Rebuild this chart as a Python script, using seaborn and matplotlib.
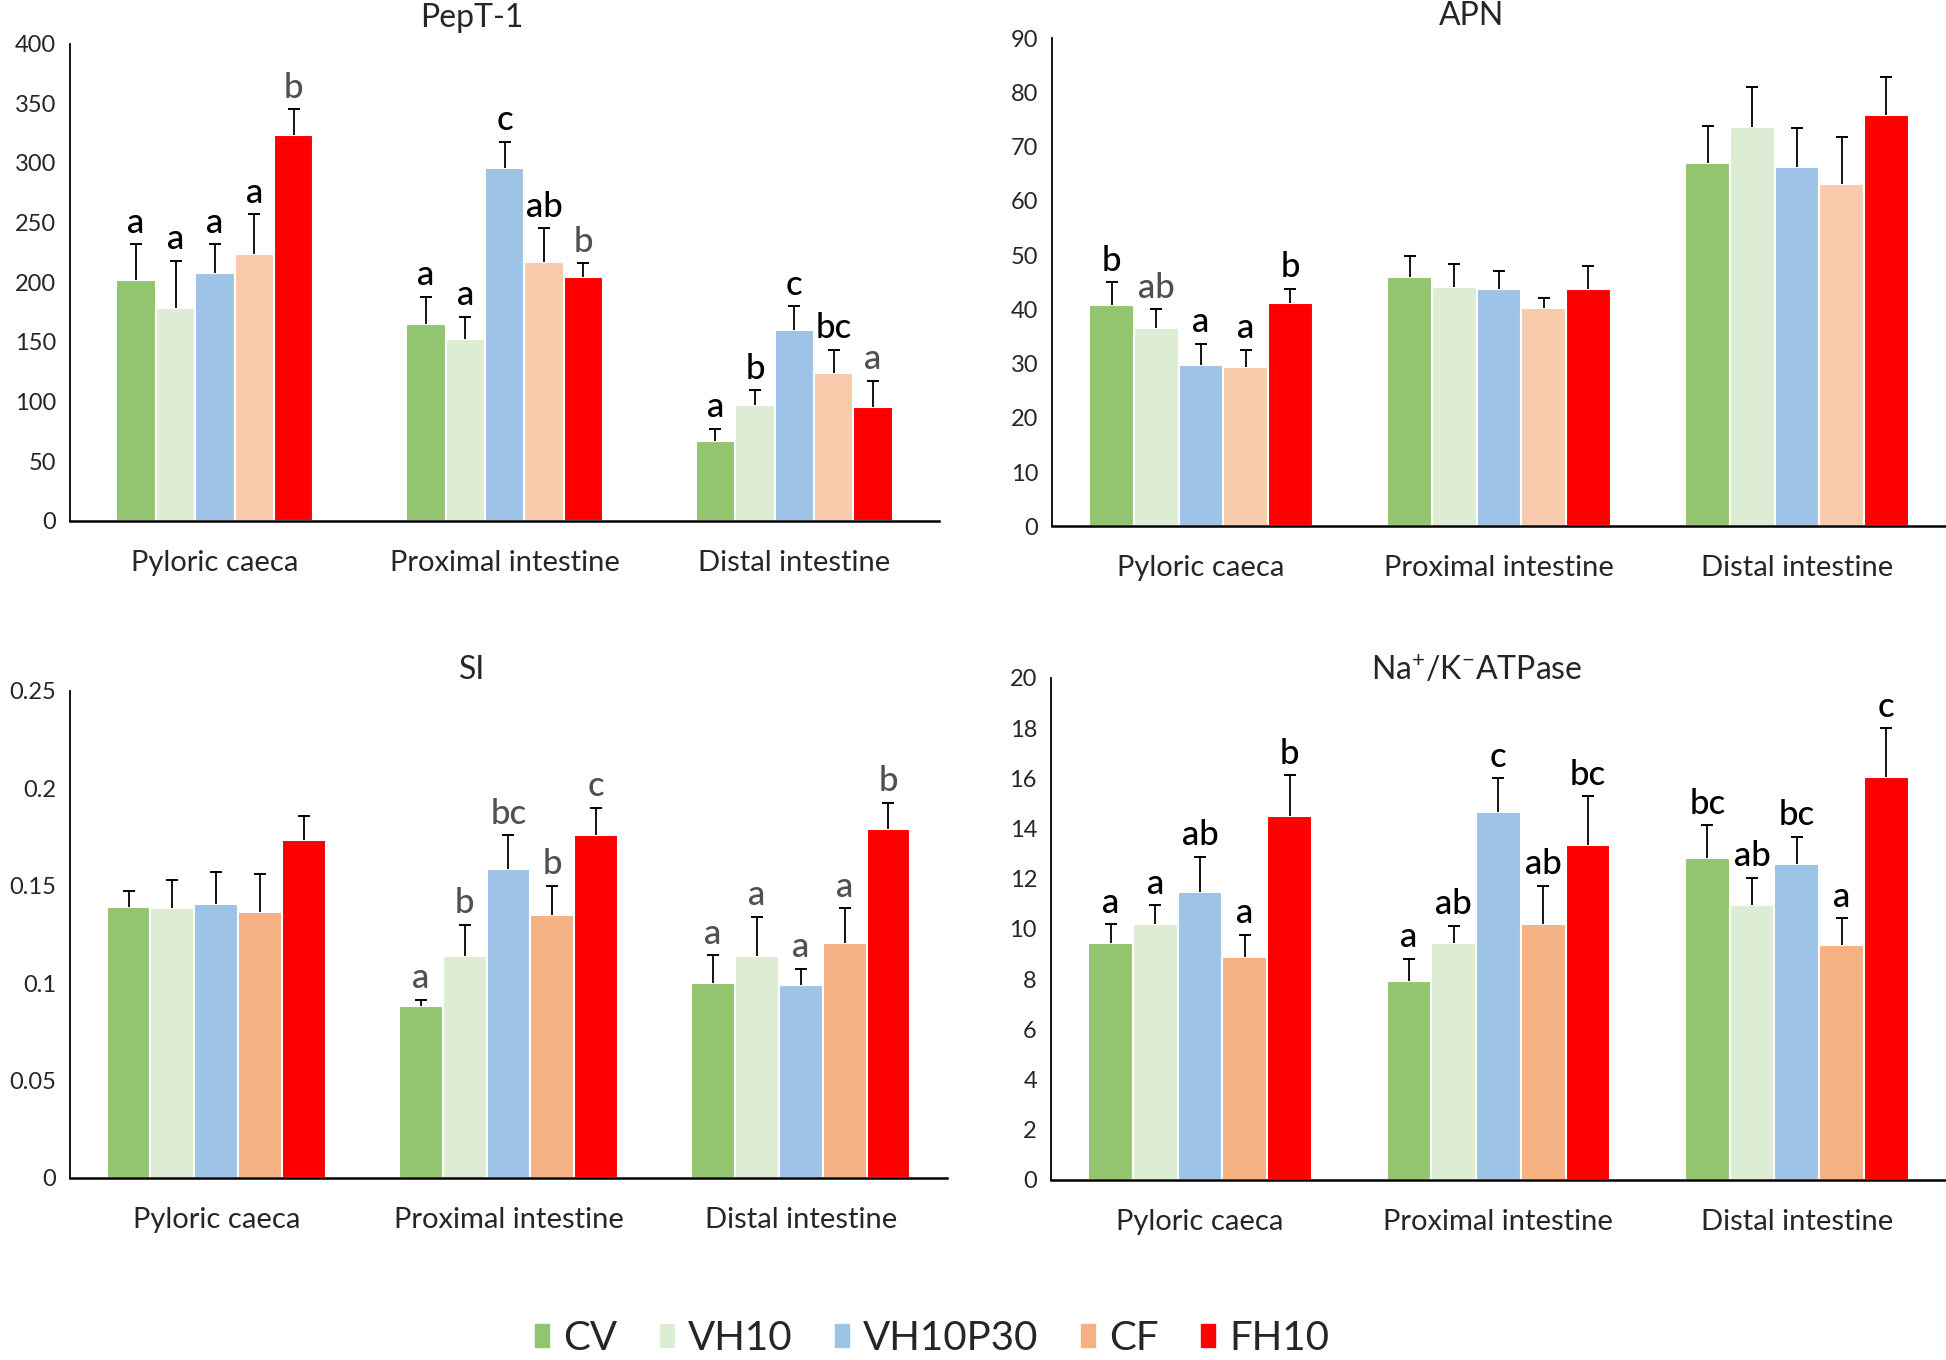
import matplotlib
matplotlib.use("Agg")
import matplotlib.pyplot as plt
import matplotlib.patches as mpatches
from matplotlib.ticker import FormatStrFormatter, FixedLocator
import numpy as np
import pandas as pd
import seaborn as sns

# categories
segments = ["Pyloric caeca", "Proximal intestine", "Distal intestine"]
diets = ["CV", "VH10", "VH10P30", "CF", "FH10"]

# values per segment: rows = segments, columns = diets
pept1_mean = [[201.6, 178.5, 207.4, 223.8, 323.3],
              [165.3, 152.5, 295.7, 216.7, 204.5],
              [67.1, 97.0, 159.6, 124.2, 95.3]]
pept1_top = [[231.8, 218.0, 231.8, 257.0, 344.8],
             [188.0, 170.8, 317.5, 245.3, 215.7],
             [77.4, 109.5, 180.0, 143.5, 117.2]]
pept1_letters = [["a", "a", "a", "a", "b"],
                 ["a", "a", "c", "ab", "b"],
                 ["a", "b", "c", "bc", "a"]]

apn_mean = [[40.8, 36.6, 29.7, 29.4, 41.2],
            [45.9, 44.1, 43.8, 40.3, 43.8],
            [66.9, 73.7, 66.3, 63.1, 75.9]]
apn_top = [[45.0, 40.0, 33.6, 32.5, 43.8],
           [49.8, 48.4, 47.1, 42.0, 48.0],
           [73.8, 80.9, 73.4, 71.7, 82.8]]
apn_letters = [["b", "ab", "a", "a", "b"],
               ["", "", "", "", ""],
               ["", "", "", "", ""]]

si_mean = [[0.1391, 0.1385, 0.1407, 0.1367, 0.1732],
           [0.0883, 0.1141, 0.1584, 0.1351, 0.1759],
           [0.0999, 0.1139, 0.0991, 0.1206, 0.1793]]
si_top = [[0.1472, 0.1527, 0.1568, 0.1558, 0.1860],
          [0.0914, 0.1300, 0.1759, 0.1499, 0.1899],
          [0.1143, 0.1340, 0.1074, 0.1383, 0.1925]]
si_letters = [["", "", "", "", ""],
              ["a", "b", "bc", "b", "c"],
              ["a", "a", "a", "a", "b"]]

nak_mean = [[9.46, 10.18, 11.48, 8.89, 14.51],
            [7.91, 9.46, 14.65, 10.18, 13.35],
            [12.83, 10.96, 12.57, 9.35, 16.07]]
nak_top = [[10.18, 10.94, 12.88, 9.77, 16.12],
           [8.82, 10.12, 16.00, 11.71, 15.28],
           [14.13, 12.04, 13.67, 10.42, 18.00]]
nak_letters = [["a", "a", "ab", "a", "b"],
               ["a", "ab", "c", "ab", "bc"],
               ["bc", "ab", "bc", "a", "c"]]

# letters printed in grey instead of black: (segment, diet)
pept1_grey = [(0, 4), (1, 4), (2, 4)]
apn_grey = [(0, 1)]
si_grey = [(s, d) for s in range(3) for d in range(5)]
nak_grey = []

base_colors = ["#93C46F", "#DDEDD3", "#9DC3E6", "#F4B183", "#FF0000"]
light_cf = ["#93C46F", "#DDEDD3", "#9DC3E6", "#F8CBAD", "#FF0000"]

sns.set_style("white")
plt.rcParams["font.family"] = ["Lato", "DejaVu Sans"]
plt.rcParams["mathtext.default"] = "regular"

fig = plt.figure(figsize=(19.46, 13.6), dpi=100)


def panel(rect, mean, top, letters, grey, ymax, step, colors, width, title, title_xy):
    ax = fig.add_axes(rect)
    rows = []
    for i, seg in enumerate(segments):
        for j, d in enumerate(diets):
            rows.append({"segment": seg, "diet": d, "value": mean[i][j]})
    df = pd.DataFrame(rows)
    sns.barplot(data=df, x="segment", y="value", hue="diet", order=segments,
                hue_order=diets, palette=colors, saturation=1, width=width,
                errorbar=None, edgecolor="white", linewidth=1.5, legend=False, ax=ax)

    # place error bars and letters using the bar positions from seaborn
    centers = {}
    for p in ax.patches:
        if p.get_height() <= 0:
            continue
        xc = p.get_x() + p.get_width() / 2
        centers.setdefault(int(round(xc)), []).append(xc)
    for i in range(3):
        xs = sorted(centers[i])
        for j, xc in enumerate(xs):
            ax.vlines(xc, mean[i][j], top[i][j], color="black", lw=1.3, zorder=3)
            ax.plot([xc], [top[i][j]], ls="none", marker="_", ms=8, mew=1.4,
                    color="black", zorder=3)
            if letters[i][j]:
                col = "#505050" if (i, j) in grey else "black"
                ax.annotate(letters[i][j], (xc, top[i][j]), xytext=(0, 4),
                            textcoords="offset points", ha="center", va="bottom",
                            fontsize=25, color=col, fontweight="medium")

    ax.set_xlim(-0.5, 2.5)
    ax.set_ylim(0, ymax)
    ax.yaxis.set_major_locator(FixedLocator(np.arange(0, ymax + step / 2, step)))
    ax.yaxis.set_major_formatter(FormatStrFormatter("%g"))
    ax.xaxis.set_major_locator(FixedLocator([-0.5, 0.5, 1.5, 2.5]))
    ax.xaxis.set_minor_locator(FixedLocator([0, 1, 2]))
    ax.set_xticklabels([])
    ax.set_xticklabels(segments, minor=True)
    ax.tick_params(axis="x", which="major", direction="out", length=9, width=1.3,
                   color="black")
    ax.tick_params(axis="x", which="minor", length=0, pad=21, labelsize=21)
    ax.tick_params(axis="y", direction="out", length=6, width=1.2, color="black",
                   labelsize=17, pad=4)
    ax.set_xlabel("")
    ax.set_ylabel("")
    sns.despine(ax=ax)
    ax.spines["left"].set_linewidth(1.3)
    ax.spines["bottom"].set_linewidth(1.8)
    ax.spines["left"].set_color("black")
    ax.spines["bottom"].set_color("black")
    fig.text(title_xy[0], title_xy[1], title, ha="center", va="center", fontsize=23)
    return ax


panel([0.036, 0.617, 0.4466, 0.351], pept1_mean, pept1_top, pept1_letters, pept1_grey,
      400, 50, light_cf, 0.68, "PepT-1", (0.2425, 0.987))
panel([0.5406, 0.613, 0.4594, 0.359], apn_mean, apn_top, apn_letters, apn_grey,
      90, 10, light_cf, 0.75, "APN", (0.756, 0.988))
panel([0.036, 0.134, 0.4506, 0.358], si_mean, si_top, si_letters, si_grey,
      0.25, 0.05, base_colors, 0.75, "SI", (0.2425, 0.507))
panel([0.540, 0.1324, 0.46, 0.3691], nak_mean, nak_top, nak_letters, nak_grey,
      20, 2, base_colors, 0.75, "Na$^{+}$/K$^{-}$ATPase", (0.759, 0.507))

handles = [mpatches.Patch(color=c, label=d) for c, d in zip(base_colors, diets)]
fig.legend(handles=handles, loc="center", bbox_to_anchor=(0.479, 0.016), ncol=5,
           frameon=False, fontsize=29, handlelength=0.35, handleheight=0.5,
           handletextpad=0.35, columnspacing=1.05, borderpad=0.1)

fig.savefig("out.png", dpi=100)
